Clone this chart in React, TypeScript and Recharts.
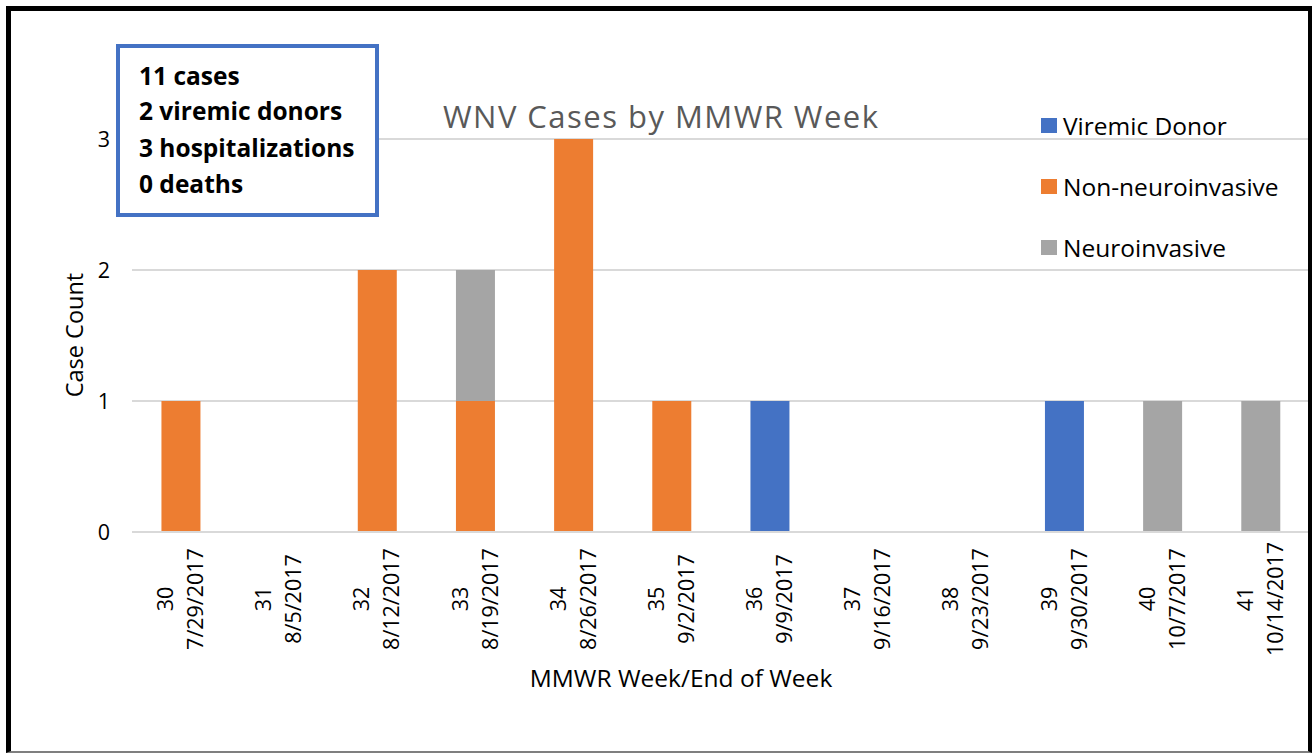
import React from 'react';
import { BarChart, Bar, XAxis, YAxis, CartesianGrid, Legend } from 'recharts';

const weeks = ['30', '31', '32', '33', '34', '35', '36', '37', '38', '39', '40', '41'];
const weekEnds = ['7/29/2017', '8/5/2017', '8/12/2017', '8/19/2017', '8/26/2017', '9/2/2017', '9/9/2017', '9/16/2017', '9/23/2017', '9/30/2017', '10/7/2017', '10/14/2017'];
const viremicDonor = [0, 0, 0, 0, 0, 0, 1, 0, 0, 1, 0, 0];
const nonNeuroinvasive = [1, 0, 2, 1, 3, 1, 0, 0, 0, 0, 0, 0];
const neuroinvasive = [0, 0, 0, 1, 0, 0, 0, 0, 0, 0, 1, 1];
const yTicks = [0, 1, 2, 3];
const summaryLines = ['11 cases', '2 viremic donors', '3 hospitalizations', '0 deaths'];
const chartTitle = 'WNV Cases by MMWR Week';
const xTitle = 'MMWR Week/End of Week';
const yTitle = 'Case Count';

const series = [
  { key: 'viremic', name: 'Viremic Donor', color: '#4472C4' },
  { key: 'nonNeuro', name: 'Non-neuroinvasive', color: '#ED7D31' },
  { key: 'neuro', name: 'Neuroinvasive', color: '#A5A5A5' },
];

const data = weeks.map((w, i) => ({
  week: w,
  end: weekEnds[i],
  viremic: viremicDonor[i],
  nonNeuro: nonNeuroinvasive[i],
  neuro: neuroinvasive[i],
}));

const FONT = '"Open Sans", "Noto Sans", sans-serif';

const XTick = (props: any) => {
  const { x, y, payload } = props;
  const idx = weeks.indexOf(String(payload.value));
  return (
    <g transform={`translate(${x},${y + 59}) rotate(-90)`}>
      <text textAnchor="middle" fontFamily={FONT} fontSize={21.5} fill="#000">
        <tspan x={0} y={-8}>{payload.value}</tspan>
        <tspan x={0} y={22}>{weekEnds[idx]}</tspan>
      </text>
    </g>
  );
};

const LegendContent = () => (
  <div style={{ fontFamily: FONT, fontSize: 24.5, color: '#000' }}>
    {series.map((s) => (
      <div key={s.key} style={{ display: 'flex', alignItems: 'center', height: 61 }}>
        <div style={{ width: 16, height: 15, background: s.color, marginRight: 6 }} />
        <span>{s.name}</span>
      </div>
    ))}
  </div>
);

export default function App() {
  return (
    <div style={{ position: 'absolute', left: 0, top: 0, width: 1312, height: 753, background: '#fff', overflow: 'hidden' }}>
      <BarChart
        width={1312}
        height={753}
        data={data}
        margin={{ top: 139, right: 2, bottom: 121, left: 62 }}
        barCategoryGap="30%"
      >
        <CartesianGrid vertical={false} stroke="#d9d9d9" strokeWidth={2} />
        <XAxis
          dataKey="week"
          height={100}
          tick={<XTick />}
          tickLine={false}
          axisLine={{ stroke: '#d9d9d9', strokeWidth: 2 }}
          interval={0}
        />
        <YAxis
          width={70}
          domain={[0, 3]}
          ticks={yTicks}
          tickLine={false}
          axisLine={false}
          tickMargin={16}
          tick={{ fontFamily: FONT, fontSize: 21.5, fill: '#000' }}
        />
        <Legend
          layout="vertical"
          align="center"
          verticalAlign="middle"
          content={<LegendContent />}
          wrapperStyle={{ left: 1041, top: 95, width: 270, height: 183 }}
        />
        {series.map((s) => (
          <Bar key={s.key} dataKey={s.key} name={s.name} stackId="a" fill={s.color} isAnimationActive={false} />
        ))}
      </BarChart>
      <svg width={1312} height={753} style={{ position: 'absolute', left: 0, top: 0, pointerEvents: 'none' }}>
        <text x={443} y={128} textLength={435} lengthAdjust="spacing" fontFamily={FONT} fontSize={31} fill="#595959">{chartTitle}</text>
        <text transform="translate(83,335) rotate(-90)" textAnchor="middle" fontFamily={FONT} fontSize={23.5} fill="#000">{yTitle}</text>
        <text x={681} y={687} textAnchor="middle" fontFamily={FONT} fontSize={24.5} fill="#000">{xTitle}</text>
        <rect x={118} y={46} width={259} height={169} fill="#fff" stroke="#4472C4" strokeWidth={4} />
        {summaryLines.map((t, i) => (
          <text key={t} x={139} y={[85, 120, 157, 193][i]} fontFamily={FONT} fontWeight="bold" fontSize={24.5} fill="#000">{t}</text>
        ))}
      </svg>
      <div
        style={{
          position: 'absolute',
          left: 6,
          top: 6,
          width: 1306,
          height: 747,
          boxSizing: 'border-box',
          borderTop: '5px solid #000',
          borderLeft: '5px solid #000',
          borderRight: '4px solid #000',
          borderBottom: '2px solid #7f7f7f',
          pointerEvents: 'none',
        }}
      />
    </div>
  );
}
